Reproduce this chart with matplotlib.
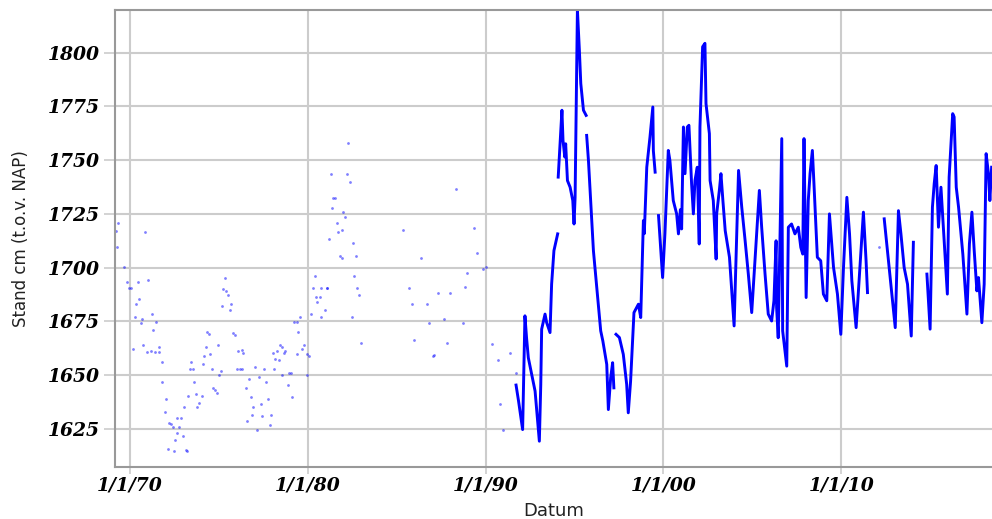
import datetime as dt
import numpy as np
import matplotlib
matplotlib.use('Agg')
import matplotlib.pyplot as plt

# losse metingen (jaar als decimaal, stand in cm t.o.v. NAP)
punt_jaar = [1969.20, 1969.35, 1969.25, 1969.68, 1969.85, 1969.95, 1970.05, 1970.47, 1971.03, 1970.84,
             1970.34, 1970.52, 1970.26, 1970.69, 1970.60, 1971.22, 1971.44, 1971.27, 1970.15, 1970.76,
             1970.97, 1971.16, 1971.41, 1971.65, 1971.63, 1971.78, 1971.83, 1972.02, 1971.95, 1972.19,
             1972.30, 1972.40, 1972.63, 1972.85, 1972.76, 1972.66, 1972.96, 1972.55, 1972.14, 1972.47,
             1973.15, 1973.22, 1973.03, 1973.27, 1973.40, 1973.55, 1973.46, 1973.59, 1973.74, 1974.03,
             1973.88, 1973.78, 1974.12, 1974.17, 1974.27, 1974.36, 1974.45, 1974.50, 1974.62, 1974.95,
             1975.02, 1975.10, 1974.68, 1974.78, 1974.87, 1975.34, 1975.25, 1975.40, 1975.52, 1975.71,
             1975.20, 1975.60, 1975.80, 1975.90, 1976.09, 1976.28, 1976.37, 1976.00, 1976.19, 1976.33,
             1976.69, 1976.52, 1977.03, 1977.27, 1977.54, 1976.79, 1976.93, 1976.84, 1976.59, 1977.12,
             1977.63, 1977.74, 1977.36, 1977.44, 1977.96, 1977.87, 1978.10, 1978.02, 1978.25, 1978.36,
             1978.16, 1978.44, 1978.53, 1978.72, 1978.66, 1978.55, 1978.90, 1979.09, 1978.96, 1979.04,
             1979.24, 1979.37, 1979.56, 1979.46, 1979.37, 1979.79, 1979.65, 1979.93, 1980.08, 1979.97,
             1980.40, 1980.27, 1980.77, 1981.06, 1981.09, 1980.46, 1980.69, 1980.54, 1980.16, 1980.77,
             1980.96, 1982.46, 1982.61, 1982.78, 1982.88, 1982.99, 1982.27, 1981.28, 1982.21, 1982.37,
             1981.43, 1981.53, 1981.34, 1982.00, 1982.09, 1981.62, 1981.71, 1981.94, 1981.20, 1982.55,
             1981.81, 1981.90, 1982.71, 1985.37, 1985.70, 1985.84, 1985.97, 1986.36, 1986.68, 1986.83,
             1987.05, 1987.10, 1987.33, 1987.67, 1987.80, 1987.99, 1988.36, 1988.70, 1988.83, 1988.98,
             1989.33, 1989.52, 1989.86, 1990.00, 1990.34, 1990.71, 1991.37, 1990.81, 1991.00, 1991.71,
             2012.09]
punt_stand = [1717.0, 1720.6, 1709.6, 1700.4, 1693.5, 1690.7, 1690.7, 1693.1, 1694.2, 1716.7,
              1683.3, 1685.4, 1677.1, 1676.0, 1674.2, 1678.4, 1674.9, 1671.0, 1662.0, 1664.0,
              1660.8, 1661.3, 1660.8, 1660.8, 1663.1, 1656.0, 1647.0, 1638.9, 1633.0, 1627.8,
              1627.3, 1626.1, 1629.9, 1629.9, 1626.1, 1623.0, 1621.9, 1619.7, 1615.7, 1614.6,
              1615.4, 1614.6, 1635.1, 1640.1, 1653.0, 1653.0, 1656.1, 1647.0, 1641.1, 1640.3,
              1637.1, 1635.1, 1655.0, 1658.9, 1663.1, 1670.1, 1669.3, 1660.0, 1653.0, 1664.0,
              1650.0, 1651.9, 1644.1, 1643.0, 1641.8, 1695.4, 1690.3, 1689.2, 1687.4, 1683.3,
              1682.2, 1680.2, 1669.6, 1668.5, 1661.2, 1661.8, 1660.5, 1653.0, 1653.0, 1653.0,
              1648.2, 1644.0, 1653.9, 1649.0, 1653.0, 1639.9, 1635.1, 1631.7, 1628.9, 1624.7,
              1647.0, 1639.0, 1636.8, 1630.9, 1631.7, 1627.0, 1653.0, 1660.2, 1661.2, 1656.9,
              1657.4, 1664.0, 1663.1, 1661.2, 1660.5, 1649.9, 1645.2, 1639.9, 1650.9, 1650.9,
              1674.9, 1674.9, 1677.1, 1670.2, 1660.0, 1664.0, 1662.0, 1659.7, 1658.9, 1650.0,
              1696.2, 1690.5, 1690.5, 1690.5, 1690.5, 1686.4, 1686.4, 1684.2, 1678.4, 1677.1,
              1680.4, 1677.2, 1696.2, 1690.5, 1687.4, 1665.1, 1757.9, 1743.7, 1743.7, 1739.7,
              1732.5, 1732.5, 1727.6, 1725.8, 1723.7, 1720.6, 1716.4, 1717.5, 1713.3, 1711.5,
              1705.5, 1704.5, 1705.5, 1717.5, 1690.5, 1683.3, 1666.2, 1704.5, 1683.3, 1674.2,
              1658.9, 1659.5, 1688.4, 1676.3, 1665.1, 1688.4, 1736.7, 1674.2, 1691.2, 1697.3,
              1718.5, 1706.6, 1699.3, 1700.4, 1664.4, 1657.0, 1660.2, 1636.8, 1624.7, 1650.8,
              1709.4]

# doorlopende reeks vanaf 1991 (nan = onderbreking)
lijn_jaar = [1991.71, 1991.85, 1992.08, 1992.21, 1992.30, 1992.40, 1992.78, 1993.02, 1993.10, 1993.15,
             1993.34, 1993.43, 1993.62, 1993.71, 1993.84, 1994.05, 1994.06, 1994.08, 1994.29, 1994.35,
             1994.45, 1994.50, 1994.60, 1994.75, 1994.90, 1994.97, 1995.03, 1995.16, 1995.27, 1995.35,
             1995.50, 1995.65, 1995.66, 1995.68, 1995.78, 1996.06, 1996.25, 1996.47, 1996.59, 1996.81,
             1996.90, 1997.03, 1997.14, 1997.21, 1997.27, 1997.33, 1997.52, 1997.74, 1997.93, 1998.02,
             1998.15, 1998.34, 1998.59, 1998.72, 1998.87, 1998.92, 1999.06, 1999.24, 1999.40, 1999.43,
             1999.53, 1999.62, 1999.72, 1999.95, 2000.08, 2000.27, 2000.36, 2000.55, 2000.74, 2000.84,
             2000.95, 2001.02, 2001.12, 2001.21, 2001.34, 2001.43, 2001.58, 2001.68, 2001.77, 2001.90,
             2002.01, 2002.05, 2002.20, 2002.33, 2002.39, 2002.58, 2002.62, 2002.80, 2002.96, 2002.99,
             2003.15, 2003.23, 2003.34, 2003.47, 2003.71, 2003.97, 2004.22, 2004.40, 2004.59, 2004.77,
             2004.96, 2005.20, 2005.39, 2005.52, 2005.71, 2005.89, 2006.08, 2006.21, 2006.33, 2006.36,
             2006.45, 2006.65, 2006.70, 2006.93, 2007.02, 2007.20, 2007.39, 2007.58, 2007.72, 2007.83,
             2007.90, 2008.02, 2008.14, 2008.24, 2008.37, 2008.46, 2008.65, 2008.84, 2008.99, 2009.18,
             2009.33, 2009.56, 2009.78, 2009.97, 2010.12, 2010.31, 2010.46, 2010.59, 2010.83, 2011.02,
             2011.24, 2011.39, 2011.47, 2011.90, 2012.41, 2012.65, 2012.84, 2013.03, 2013.21, 2013.35,
             2013.53, 2013.72, 2013.93, 2014.05, 2014.40, 2014.81, 2014.99, 2015.12, 2015.22, 2015.33,
             2015.46, 2015.60, 2015.78, 2015.96, 2016.06, 2016.26, 2016.34, 2016.46, 2016.59, 2016.83,
             2017.06, 2017.20, 2017.34, 2017.47, 2017.62, 2017.71, 2017.90, 2018.03, 2018.14, 2018.27,
             2018.35, 2018.45]
lijn_stand = [1645.4, 1638.0, 1624.7, 1677.6, 1667.4, 1658.1, 1642.6, 1619.3, 1645.7, 1671.4,
              1678.4, 1674.5, 1669.8, 1692.3, 1707.9, 1715.7, np.nan, 1742.1, 1773.2, 1759.2,
              1751.4, 1757.6, 1740.5, 1737.4, 1731.2, 1720.3, 1732.7, 1819.8, 1801.2, 1785.6,
              1773.2, 1770.8, np.nan, 1761.5, 1749.9, 1707.9, 1690.8, 1670.6, 1665.9, 1655.0,
              1634.0, 1648.8, 1655.8, 1644.1, np.nan, 1669.0, 1667.5, 1659.7, 1645.7, 1632.5,
              1647.2, 1679.1, 1683.0, 1676.8, 1721.9, 1715.8, 1746.7, 1760.7, 1774.7, 1754.4,
              1744.4, np.nan, 1724.2, 1695.4, 1715.7, 1754.5, 1749.9, 1731.2, 1725.0, 1715.7,
              1727.0, 1718.0, 1765.4, 1743.7, 1765.4, 1766.2, 1739.0, 1725.0, 1740.5, 1746.7,
              1711.0, 1765.4, 1802.7, 1804.3, 1776.3, 1762.3, 1740.5, 1731.2, 1704.0, 1725.0,
              1736.7, 1743.7, 1731.2, 1717.2, 1704.8, 1672.9, 1745.2, 1728.1, 1712.5, 1697.0,
              1679.1, 1711.0, 1735.9, 1718.8, 1697.0, 1678.4, 1675.2, 1684.6, 1712.5, 1681.5,
              1667.4, 1760.0, 1670.6, 1654.2, 1718.8, 1720.3, 1715.7, 1718.8, 1709.4, 1706.3,
              1760.0, 1686.1, 1731.2, 1743.7, 1754.5, 1739.0, 1704.8, 1703.2, 1687.7, 1684.6,
              1725.0, 1700.1, 1687.7, 1669.0, 1700.1, 1732.7, 1715.7, 1693.9, 1672.1, 1697.0,
              1725.8, 1703.2, 1688.4, np.nan, 1722.7, 1703.2, 1687.7, 1672.1, 1726.5, 1715.7,
              1700.1, 1692.3, 1668.2, 1711.8, np.nan, 1697.0, 1671.4, 1728.1, 1739.0, 1747.5,
              1718.8, 1737.4, 1712.5, 1687.7, 1742.1, 1771.6, 1770.1, 1737.4, 1728.1, 1706.3,
              1678.4, 1711.0, 1725.8, 1707.9, 1689.2, 1695.4, 1674.4, 1692.3, 1753.0, 1743.7,
              1731.2, 1746.7]

tick_jaren = [1970, 1980, 1990, 2000, 2010]
tick_labels = ['1/1/70', '1/1/80', '1/1/90', '1/1/00', '1/1/10']
y_ticks = [1625, 1650, 1675, 1700, 1725, 1750, 1775, 1800]


def naar_datum(j):
    return dt.datetime(1970, 1, 1) + dt.timedelta(days=(j - 1970) * 365.25)


fig = plt.figure(figsize=(9.92, 5.19), dpi=100)
ax = fig.add_axes([0.1159, 0.1002, 0.8841, 0.8805])

ax.plot([naar_datum(j) for j in punt_jaar], punt_stand, linestyle='none',
        marker='o', markersize=2.0, markeredgewidth=0, color='blue', alpha=0.5)
ax.plot([naar_datum(j) for j in lijn_jaar], lijn_stand, color='blue', linewidth=2.1)

ax.set_xlim(naar_datum(1969.16), naar_datum(2018.47))
ax.set_ylim(1607.3, 1819.8)
ax.set_xticks([naar_datum(j) for j in tick_jaren])
ax.set_xticklabels(tick_labels)
ax.set_yticks(y_ticks)

tick_font = dict(family='DejaVu Serif', weight='bold', style='italic', size=13.5)
for lbl in ax.get_xticklabels() + ax.get_yticklabels():
    lbl.set_fontproperties(matplotlib.font_manager.FontProperties(**tick_font))

ax.grid(True, color='#cccccc', linewidth=1.5)
ax.set_axisbelow(True)
for kant in ['left', 'bottom', 'top']:
    ax.spines[kant].set_color('#999999')
    ax.spines[kant].set_linewidth(1.5)
ax.spines['right'].set_visible(False)
ax.tick_params(axis='y', length=8, width=1.2, color='#cccccc', pad=3)
ax.tick_params(axis='x', length=5, width=1.2, color='#cccccc', pad=2)

ax.set_xlabel('Datum', fontsize=13, color='#222222', labelpad=5)
ax.set_ylabel('Stand cm (t.o.v. NAP)', fontsize=12, color='#222222', labelpad=13)

fig.savefig('out.png', dpi=100)
